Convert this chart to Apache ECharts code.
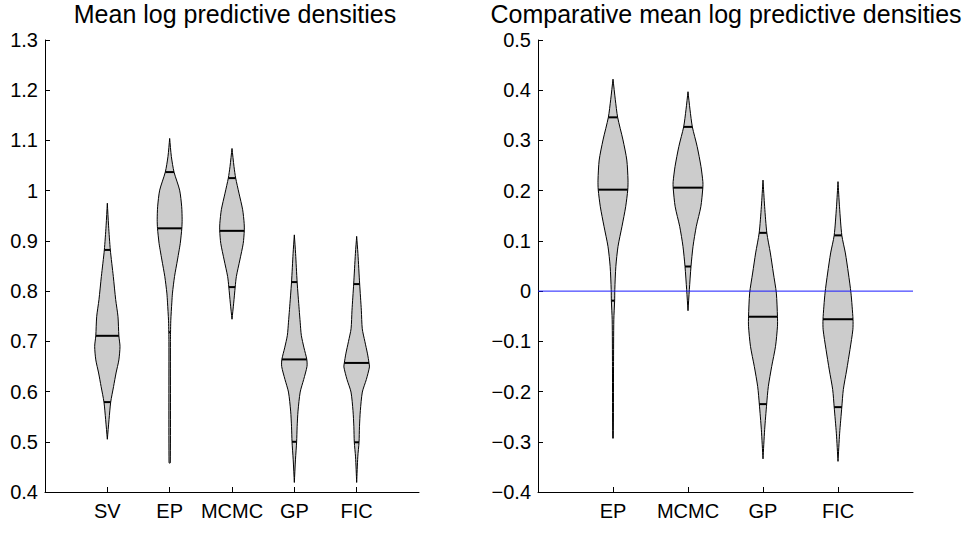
<!DOCTYPE html>
<html>
<head>
<meta charset="utf-8">
<script src="https://cdn.jsdelivr.net/npm/echarts@6/dist/echarts.min.js"></script>
<style>html,body{margin:0;padding:0;background:#fff}#c{width:973px;height:548px}</style>
</head>
<body>
<div id="c"></div>
<script>
// ---------- Data ----------
const leftTitle = 'Mean log predictive densities';
const rightTitle = 'Comparative mean log predictive densities';
const leftCategories = ['SV', 'EP', 'MCMC', 'GP', 'FIC'];
const rightCategories = ['EP', 'MCMC', 'GP', 'FIC'];
const leftYRange = [0.4, 1.3];
const rightYRange = [-0.4, 0.5];
const yStep = 0.1;
const referenceLineValue = 0;

// Violin profiles: [value, half-width (in category units)], top to bottom
const mlpdSV = [[0.975,0],[0.930,0.02],[0.882,0.048],[0.829,0.096],[0.783,0.134],[0.749,0.171],[0.711,0.185],[0.690,0.203],[0.663,0.185],[0.637,0.140],[0.610,0.100],[0.579,0.054],[0.544,0.027],[0.505,0]];
const mlpdEP = [[1.104,0],[1.068,0.027],[1.037,0.070],[1.001,0.160],[0.968,0.193],[0.942,0.200],[0.925,0.195],[0.895,0.170],[0.880,0.150],[0.862,0.125],[0.829,0.078],[0.796,0.045],[0.778,0.035],[0.741,0.018],[0.718,0.014],[0.700,0.012],[0.458,0.010]];
const mlpdMCMC = [[1.084,0],[1.048,0.032],[1.025,0.059],[0.995,0.112],[0.962,0.171],[0.935,0.195],[0.920,0.197],[0.895,0.180],[0.862,0.126],[0.829,0.070],[0.808,0.051],[0.776,0.027],[0.744,0]];
const mlpdGP = [[0.912,0],[0.875,0.020],[0.818,0.045],[0.763,0.078],[0.738,0.094],[0.712,0.112],[0.687,0.155],[0.664,0.200],[0.650,0.203],[0.624,0.150],[0.599,0.094],[0.561,0.059],[0.530,0.045],[0.500,0.037],[0.464,0.018],[0.419,0]];
const mlpdFIC = [[0.909,0],[0.875,0.020],[0.814,0.048],[0.762,0.075],[0.725,0.090],[0.700,0.131],[0.675,0.174],[0.657,0.198],[0.649,0.205],[0.624,0.155],[0.599,0.091],[0.562,0.059],[0.530,0.045],[0.499,0.038],[0.470,0.018],[0.419,0]];

const cmpEP = [[0.422,0],[0.381,0.031],[0.346,0.062],[0.301,0.133],[0.261,0.184],[0.221,0.200],[0.202,0.197],[0.168,0.169],[0.129,0.120],[0.089,0.067],[0.049,0.038],[0.003,0.024],[-0.019,0.022],[-0.057,0.011],[-0.150,0.007],[-0.293,0.004]];
const cmpMCMC = [[0.397,0],[0.361,0.027],[0.327,0.058],[0.288,0.122],[0.248,0.173],[0.218,0.198],[0.206,0.198],[0.168,0.171],[0.129,0.111],[0.089,0.067],[0.049,0.040],[0.003,0.018],[-0.039,0]];
const cmpGP = [[0.221,0],[0.168,0.022],[0.116,0.051],[0.076,0.098],[0.036,0.138],[-0.004,0.178],[-0.051,0.193],[-0.070,0.193],[-0.110,0.167],[-0.150,0.116],[-0.190,0.071],[-0.225,0.049],[-0.276,0.022],[-0.334,0]];
const cmpFIC = [[0.218,0],[0.168,0.020],[0.111,0.051],[0.076,0.098],[0.036,0.138],[-0.004,0.173],[-0.056,0.200],[-0.077,0.198],[-0.116,0.160],[-0.157,0.116],[-0.196,0.071],[-0.231,0.051],[-0.283,0.022],[-0.339,0]];

// Quantile lines (lower, median, upper)
const mlpdQuantSV = [0.579, 0.711, 0.882];
const mlpdQuantEP = [0.718, 0.925, 1.037];
const mlpdQuantMCMC = [0.808, 0.920, 1.025];
const mlpdQuantGP = [0.500, 0.664, 0.818];
const mlpdQuantFIC = [0.499, 0.657, 0.814];
const cmpQuantEP = [-0.019, 0.202, 0.346];
const cmpQuantMCMC = [0.049, 0.206, 0.327];
const cmpQuantGP = [-0.225, -0.051, 0.116];
const cmpQuantFIC = [-0.231, -0.056, 0.111];

const leftProfiles = [mlpdSV, mlpdEP, mlpdMCMC, mlpdGP, mlpdFIC];
const leftQuantiles = [mlpdQuantSV, mlpdQuantEP, mlpdQuantMCMC, mlpdQuantGP, mlpdQuantFIC];
const rightProfiles = [cmpEP, cmpMCMC, cmpGP, cmpFIC];
const rightQuantiles = [cmpQuantEP, cmpQuantMCMC, cmpQuantGP, cmpQuantFIC];

// ---------- Chart ----------
const FONT = "'Liberation Sans', Arial, Helvetica, sans-serif";

function violinRenderer(profiles, quantiles) {
  return function (params, api) {
    const i = params.dataIndex;
    const x0 = api.value(0);
    const prof = profiles[i];
    const right = prof.map(p => api.coord([x0 + p[1], p[0]]));
    const left = prof.slice().reverse().map(p => api.coord([x0 - p[1], p[0]]));
    const children = [{
      type: 'polygon',
      shape: { points: right.concat(left), smooth: 0.25 },
      style: { fill: '#cccccc', stroke: '#000', lineWidth: 1 }
    }];
    quantiles[i].forEach(q => {
      const w = prof.find(p => p[0] === q)[1];
      const a = api.coord([x0 - w, q]);
      const b = api.coord([x0 + w, q]);
      children.push({
        type: 'line',
        shape: { x1: a[0], y1: a[1], x2: b[0], y2: b[1] },
        style: { stroke: '#000', lineWidth: 2 }
      });
    });
    return { type: 'group', children };
  };
}

function yAxisCfg(gridIndex, range) {
  return {
    type: 'value', gridIndex, min: range[0], max: range[1], interval: yStep,
    axisLine: { show: true, lineStyle: { color: '#000', width: 1 } },
    axisTick: { show: true, inside: true, length: 5, lineStyle: { color: '#000' } },
    splitLine: { show: false },
    axisLabel: {
      color: '#000', fontFamily: FONT, fontSize: 20, margin: 7,
      formatter: v => {
        const s = String(Math.round(v * 10) / 10);
        return s.replace('-', '\u2212');
      }
    }
  };
}

function xAxisCfg(gridIndex, cats) {
  const pos = cats.map((c, i) => i + 1);
  return {
    type: 'value', gridIndex, min: 0, max: cats.length + 1, interval: 1,
    axisLine: { show: true, onZero: false, lineStyle: { color: '#000', width: 1 } },
    axisTick: { show: true, inside: true, length: 5, customValues: pos, lineStyle: { color: '#000' } },
    splitLine: { show: false },
    axisLabel: {
      color: '#000', fontFamily: FONT, fontSize: 20, margin: 9,
      customValues: pos,
      formatter: v => cats[Math.round(v) - 1] || ''
    }
  };
}

const chart = echarts.init(document.getElementById('c'), null, { renderer: 'svg' });
chart.setOption({
  animation: false,
  backgroundColor: '#fff',
  title: [
    { text: leftTitle, left: 235, top: 1, textAlign: 'center', padding: 0,
      textStyle: { fontFamily: FONT, fontSize: 25, fontWeight: 'normal', color: '#000' } },
    { text: rightTitle, left: 726, top: 1, textAlign: 'center', padding: 0,
      textStyle: { fontFamily: FONT, fontSize: 25, fontWeight: 'normal', color: '#000' } }
  ],
  grid: [
    { left: 45, top: 40, width: 374, height: 452 },
    { left: 538, top: 40, width: 375, height: 452 }
  ],
  xAxis: [xAxisCfg(0, leftCategories), xAxisCfg(1, rightCategories)],
  yAxis: [yAxisCfg(0, leftYRange), yAxisCfg(1, rightYRange)],
  series: [
    {
      type: 'custom', xAxisIndex: 0, yAxisIndex: 0,
      data: leftCategories.map((c, i) => [i + 1, leftQuantiles[i][1]]),
      encode: { x: 0, y: 1 },
      renderItem: violinRenderer(leftProfiles, leftQuantiles),
      z: 2, silent: true
    },
    {
      type: 'custom', xAxisIndex: 1, yAxisIndex: 1,
      data: rightCategories.map((c, i) => [i + 1, rightQuantiles[i][1]]),
      encode: { x: 0, y: 1 },
      renderItem: violinRenderer(rightProfiles, rightQuantiles),
      z: 2, silent: true
    },
    {
      type: 'line', xAxisIndex: 1, yAxisIndex: 1,
      data: [[0, referenceLineValue], [rightCategories.length + 1, referenceLineValue]],
      symbol: 'none', lineStyle: { color: '#1a1aff', width: 1 },
      z: 5, silent: true
    }
  ]
});
</script>
</body>
</html>
